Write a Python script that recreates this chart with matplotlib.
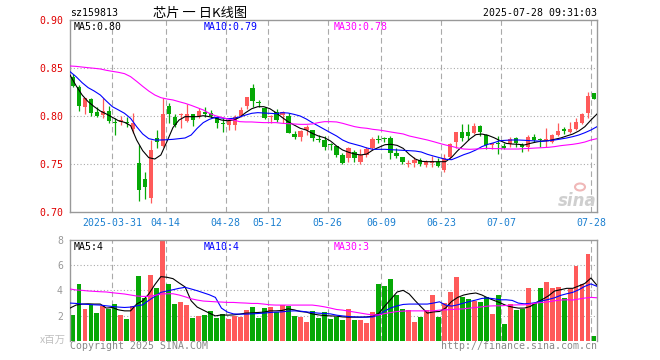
import numpy as np
import matplotlib.pyplot as plt
from matplotlib.patches import Ellipse

# 日K线数据 (sz159813, 2025-03-20 ~ 2025-07-28)
opens = [0.8410, 0.8306, 0.8097, 0.8177, 0.8045, 0.8007, 0.8056, 0.7934, 0.7941, 0.7940,
         0.7865, 0.7507, 0.7344, 0.7149, 0.7771, 0.7688, 0.8104, 0.7993, 0.8007, 0.7948,
         0.8021, 0.7993, 0.8045, 0.8028, 0.7993, 0.7924, 0.7906, 0.7906, 0.8000, 0.8104,
         0.8292, 0.8135, 0.8080, 0.7993, 0.8045, 0.8010, 0.8000, 0.7813, 0.7785, 0.7854,
         0.7854, 0.7754, 0.7750, 0.7700, 0.7688, 0.7594, 0.7566, 0.7628, 0.7524, 0.7594,
         0.7663, 0.7757, 0.7764, 0.7771, 0.7611, 0.7570, 0.7503, 0.7514, 0.7542, 0.7490,
         0.7514, 0.7524, 0.7438, 0.7576, 0.7733, 0.7837, 0.7837, 0.7826, 0.7900, 0.7802,
         0.7694, 0.7712, 0.7688, 0.7708, 0.7767, 0.7698, 0.7674, 0.7785, 0.7752, 0.7753,
         0.7733, 0.7802, 0.7861, 0.7837, 0.7865, 0.7924, 0.8035, 0.8236]
highs = [0.8440, 0.8320, 0.8190, 0.8185, 0.8097, 0.8190, 0.8100, 0.7976, 0.8003, 0.7993,
         0.8028, 0.7698, 0.7417, 0.7750, 0.7854, 0.8190, 0.8140, 0.8017, 0.8028, 0.8125,
         0.8021, 0.8087, 0.8097, 0.8062, 0.8000, 0.7976, 0.7958, 0.8010, 0.8097, 0.8201,
         0.8333, 0.8167, 0.8097, 0.8010, 0.8069, 0.8055, 0.8028, 0.7847, 0.7854, 0.7906,
         0.7854, 0.7802, 0.7792, 0.7722, 0.7688, 0.7611, 0.7674, 0.7646, 0.7653, 0.7674,
         0.7778, 0.7802, 0.7785, 0.7792, 0.7663, 0.7570, 0.7542, 0.7576, 0.7559, 0.7542,
         0.7583, 0.7566, 0.7600, 0.7722, 0.7837, 0.7917, 0.7917, 0.7931, 0.7906, 0.7812,
         0.7722, 0.7792, 0.7715, 0.7778, 0.7785, 0.7715, 0.7802, 0.7812, 0.7767, 0.7872,
         0.7812, 0.7931, 0.7889, 0.7941, 0.7976, 0.8035, 0.8253, 0.8243]
lows = [0.8300, 0.8050, 0.8017, 0.8000, 0.7993, 0.7976, 0.7924, 0.7800, 0.7906, 0.7890,
        0.7826, 0.7118, 0.7132, 0.7097, 0.7663, 0.7674, 0.7924, 0.7890, 0.7870, 0.7938,
        0.7900, 0.7976, 0.7993, 0.7976, 0.7875, 0.7837, 0.7854, 0.7854, 0.7993, 0.8069,
        0.8097, 0.8097, 0.7970, 0.7924, 0.7941, 0.7924, 0.7819, 0.7757, 0.7743, 0.7802,
        0.7740, 0.7733, 0.7646, 0.7646, 0.7570, 0.7500, 0.7524, 0.7524, 0.7500, 0.7576,
        0.7646, 0.7715, 0.7733, 0.7556, 0.7559, 0.7497, 0.7465, 0.7465, 0.7476, 0.7465,
        0.7465, 0.7472, 0.7420, 0.7559, 0.7663, 0.7743, 0.7750, 0.7812, 0.7792, 0.7653,
        0.7653, 0.7604, 0.7653, 0.7674, 0.7674, 0.7628, 0.7639, 0.7733, 0.7674, 0.7680,
        0.7722, 0.7792, 0.7813, 0.7819, 0.7854, 0.7917, 0.7976, 0.8177]
closes = [0.8310, 0.8108, 0.8190, 0.8035, 0.8000, 0.8056, 0.7948, 0.7930, 0.7958, 0.7924,
          0.7924, 0.7229, 0.7264, 0.7646, 0.7726, 0.8020, 0.8020, 0.7906, 0.8017, 0.8021,
          0.7958, 0.8052, 0.8021, 0.8000, 0.7924, 0.7917, 0.7948, 0.7993, 0.8063, 0.8201,
          0.8160, 0.8132, 0.7976, 0.8000, 0.7958, 0.8045, 0.7826, 0.7785, 0.7844, 0.7889,
          0.7774, 0.7750, 0.7680, 0.7698, 0.7594, 0.7514, 0.7663, 0.7559, 0.7594, 0.7653,
          0.7764, 0.7750, 0.7757, 0.7611, 0.7583, 0.7524, 0.7507, 0.7542, 0.7500, 0.7524,
          0.7535, 0.7480, 0.7559, 0.7708, 0.7837, 0.7767, 0.7792, 0.7896, 0.7837, 0.7698,
          0.7715, 0.7708, 0.7663, 0.7760, 0.7715, 0.7674, 0.7778, 0.7750, 0.7750, 0.7757,
          0.7802, 0.7847, 0.7844, 0.7865, 0.7941, 0.8021, 0.8208, 0.8177]

# 均线
ma5 = [0.8427, 0.8316, 0.8219, 0.8149, 0.8097, 0.8052, 0.8021, 0.7986, 0.7951, 0.7934,
       0.7900, 0.7750, 0.7639, 0.7566, 0.7552, 0.7594, 0.7733, 0.7880, 0.7958, 0.7993,
       0.7993, 0.7993, 0.8003, 0.7993, 0.7979, 0.7958, 0.7951, 0.7958, 0.7986, 0.8035,
       0.8076, 0.8097, 0.8097, 0.8076, 0.8035, 0.7986, 0.7941, 0.7906, 0.7872, 0.7854,
       0.7819, 0.7792, 0.7774, 0.7740, 0.7688, 0.7646, 0.7622, 0.7604, 0.7594, 0.7604,
       0.7646, 0.7674, 0.7701, 0.7705, 0.7694, 0.7663, 0.7601, 0.7552, 0.7528, 0.7524,
       0.7524, 0.7524, 0.7524, 0.7570, 0.7639, 0.7698, 0.7760, 0.7806, 0.7812, 0.7799,
       0.7774, 0.7743, 0.7715, 0.7708, 0.7705, 0.7698, 0.7715, 0.7729, 0.7740, 0.7743,
       0.7757, 0.7771, 0.7792, 0.7812, 0.7844, 0.7889, 0.7958, 0.8021]
ma10 = [0.8462, 0.8410, 0.8347, 0.8295, 0.8260, 0.8219, 0.8156, 0.8097, 0.8063, 0.8028,
        0.7976, 0.7889, 0.7813, 0.7764, 0.7750, 0.7750, 0.7753, 0.7757, 0.7764, 0.7771,
        0.7802, 0.7872, 0.7931, 0.7965, 0.7986, 0.7979, 0.7972, 0.7976, 0.7990, 0.8010,
        0.8028, 0.8035, 0.8031, 0.8028, 0.8024, 0.8035, 0.8031, 0.8017, 0.8000, 0.7969,
        0.7931, 0.7896, 0.7861, 0.7826, 0.7792, 0.7750, 0.7722, 0.7705, 0.7688, 0.7667,
        0.7653, 0.7653, 0.7653, 0.7649, 0.7646, 0.7642, 0.7639, 0.7635, 0.7625, 0.7601,
        0.7583, 0.7566, 0.7549, 0.7545, 0.7570, 0.7597, 0.7618, 0.7646, 0.7681, 0.7705,
        0.7722, 0.7743, 0.7747, 0.7750, 0.7750, 0.7747, 0.7743, 0.7740, 0.7736, 0.7743,
        0.7750, 0.7760, 0.7771, 0.7785, 0.7802, 0.7826, 0.7854, 0.7889]
ma30 = [0.8521, 0.8517, 0.8510, 0.8503, 0.8497, 0.8490, 0.8476, 0.8465, 0.8455, 0.8441,
        0.8410, 0.8361, 0.8309, 0.8260, 0.8219, 0.8191, 0.8177, 0.8167, 0.8149, 0.8132,
        0.8111, 0.8087, 0.8063, 0.8028, 0.8003, 0.7986, 0.7969, 0.7958, 0.7941, 0.7938,
        0.7938, 0.7934, 0.7931, 0.7931, 0.7931, 0.7924, 0.7920, 0.7917, 0.7913, 0.7913,
        0.7917, 0.7931, 0.7941, 0.7941, 0.7938, 0.7924, 0.7906, 0.7889, 0.7878, 0.7872,
        0.7861, 0.7854, 0.7844, 0.7833, 0.7823, 0.7813, 0.7792, 0.7778, 0.7764, 0.7750,
        0.7733, 0.7715, 0.7698, 0.7684, 0.7667, 0.7656, 0.7653, 0.7656, 0.7660, 0.7663,
        0.7660, 0.7660, 0.7656, 0.7656, 0.7656, 0.7660, 0.7663, 0.7667, 0.7670, 0.7674,
        0.7681, 0.7691, 0.7698, 0.7705, 0.7715, 0.7729, 0.7750, 0.7764]

# 成交量 (百万)
volume = [2.05, 4.53, 2.53, 2.83, 2.21, 2.77, 2.53, 2.88, 2.05, 1.73,
          2.77, 5.17, 3.39, 5.25, 4.21, 8.00, 4.53, 2.93, 3.09, 2.85,
          1.81, 2.00, 2.05, 2.37, 1.81, 2.13, 1.73, 2.00, 1.92, 2.45,
          2.69, 1.81, 2.61, 2.69, 2.29, 2.83, 2.77, 1.97, 1.89, 1.49,
          2.37, 1.84, 2.27, 1.73, 1.92, 1.65, 2.53, 1.65, 1.65, 1.41,
          2.29, 4.53, 4.37, 4.93, 3.65, 2.53, 2.45, 1.49, 1.89, 2.45,
          3.65, 1.89, 3.01, 3.89, 5.09, 3.49, 3.33, 3.17, 3.09, 3.49,
          2.13, 3.65, 1.33, 2.93, 2.45, 2.53, 4.21, 3.01, 4.21, 4.69,
          4.21, 4.29, 3.41, 4.13, 5.97, 4.53, 6.85, 0.37]
vma5 = [2.59, 2.83, 2.91, 2.93, 2.91, 2.91, 2.59, 2.64, 2.45, 2.37,
        2.37, 2.91, 3.17, 3.71, 4.45, 5.09, 5.04, 4.93, 4.59, 4.27,
        3.17, 2.67, 2.43, 2.19, 1.97, 2.05, 2.03, 2.05, 2.11, 2.19,
        2.21, 2.24, 2.27, 2.37, 2.37, 2.40, 2.53, 2.45, 2.32, 2.27,
        2.13, 2.05, 2.00, 1.97, 1.95, 1.89, 1.87, 1.87, 1.87, 1.89,
        1.95, 2.19, 2.77, 3.31, 3.87, 4.00, 3.71, 3.17, 2.67, 2.19,
        2.29, 2.32, 2.59, 3.12, 3.44, 3.63, 3.73, 3.79, 3.63, 3.39,
        3.20, 3.01, 2.80, 2.67, 2.59, 2.59, 2.72, 3.04, 3.28, 3.57,
        3.95, 4.05, 4.16, 4.16, 4.35, 4.55, 4.98, 4.40]
vma10 = [2.99, 2.96, 2.91, 2.88, 2.85, 2.83, 2.77, 2.72, 2.67, 2.64,
         2.67, 2.77, 2.85, 3.20, 3.52, 3.84, 3.95, 4.05, 4.16, 4.24,
         4.11, 3.97, 3.81, 3.65, 3.44, 2.59, 2.27, 2.13, 2.11, 2.11,
         2.13, 2.16, 2.19, 2.24, 2.27, 2.29, 2.35, 2.37, 2.35, 2.29,
         2.24, 2.19, 2.16, 2.13, 2.03, 1.97, 1.92, 1.89, 1.87, 1.87,
         1.89, 2.05, 2.37, 2.61, 2.77, 2.88, 2.91, 2.91, 2.91, 2.91,
         2.99, 3.09, 2.83, 2.75, 2.85, 2.99, 3.12, 3.23, 3.36, 3.39,
         3.33, 3.25, 3.25, 3.20, 2.99, 2.93, 2.96, 3.04, 3.17, 3.28,
         3.41, 3.60, 3.73, 3.84, 4.05, 4.32, 4.51, 4.32]
vma30 = [4.11, 4.03, 4.00, 3.95, 3.92, 3.89, 3.87, 3.81, 3.76, 3.71,
         3.63, 3.55, 3.52, 3.52, 3.60, 3.71, 3.73, 3.73, 3.63, 3.49,
         3.33, 3.23, 3.15, 3.12, 3.09, 3.07, 3.04, 3.04, 3.01, 2.99,
         2.96, 2.96, 2.91, 2.85, 2.83, 2.83, 2.83, 2.83, 2.83, 2.83,
         2.83, 2.77, 2.69, 2.59, 2.48, 2.43, 2.35, 2.27, 2.19, 2.11,
         2.05, 2.05, 2.16, 2.24, 2.32, 2.35, 2.37, 2.37, 2.37, 2.37,
         2.37, 2.43, 2.45, 2.48, 2.51, 2.53, 2.59, 2.64, 2.69, 2.75,
         2.77, 2.77, 2.80, 2.83, 2.85, 2.85, 2.91, 2.99, 3.04, 3.09,
         3.17, 3.23, 3.25, 3.23, 3.31, 3.39, 3.44, 3.41]

date_idx = [7, 16, 26, 33, 43, 52, 62, 72, 87]
date_labels = ['2025-03-31', '04-14', '04-28', '05-12', '05-26',
               '06-09', '06-23', '07-07', '07-28']
price_ticks = [0.70, 0.75, 0.80, 0.85, 0.90]
vol_ticks = [2, 4, 6, 8]

RED = '#ff5a5a'
GREEN = '#06a806'
GRID = '#aaaaaa'
MONO = 'DejaVu Sans Mono'
CJK = ['Noto Sans CJK SC', 'DejaVu Sans']

W, H = 660, 360
fig = plt.figure(figsize=(6.6, 3.6), dpi=100)


def px_axes(x0, y0, x1, y1):
    return fig.add_axes([x0 / W, 1 - y1 / H, (x1 - x0) / W, (y1 - y0) / H])


def px_text(x, y, s, **kw):
    kw.setdefault('family', MONO)
    kw.setdefault('fontsize', 7.1)
    fig.text(x / W, 1 - y / H, s, va='center', **kw)


n = len(closes)
idx = np.arange(n)
o = np.array(opens)
c = np.array(closes)
up = c >= o
colors = np.where(up, RED, GREEN)
ma_x = np.linspace(-0.5, n - 0.5, n)
grid_x = np.array(date_idx) - 0.5

ax = px_axes(70, 20, 597, 212)
axv = px_axes(70, 240, 597, 340.7)

for a in (ax, axv):
    a.set_xlim(-0.5, n - 0.5)
    for s in a.spines.values():
        s.set_color('#999999')
        s.set_linewidth(1.0)
    for gx in grid_x:
        a.axvline(gx, color=GRID, lw=0.8, ls=(0, (5, 3)), zorder=0)
    a.tick_params(length=0)
axv.spines['bottom'].set_visible(False)

# K线
ax.vlines(idx, lows, highs, colors=colors, lw=0.9, zorder=2)
body = np.maximum(np.abs(c - o), 0.0009)
ax.bar(idx, body, bottom=np.minimum(o, c), width=0.72, color=colors, zorder=3)
ax.plot(ma_x, ma5, color='black', lw=0.8, zorder=4)
ax.plot(ma_x, ma10, color='#0000ff', lw=0.8, zorder=4)
ax.plot(ma_x, ma30, color='#ff00ff', lw=0.8, zorder=4)
ax.set_ylim(0.70, 0.90)
ax.set_yticks(price_ticks)
ax.set_yticklabels(['%.2f' % v for v in price_ticks], color='#e00000',
                   family=MONO, fontsize=7.1)
ax.tick_params(axis='y', pad=5)
for v in price_ticks[1:-1]:
    ax.axhline(v, color=GRID, lw=0.8, ls=(0, (1, 2)), zorder=0)
ax.set_xticks(grid_x)
ax.set_xticklabels(date_labels, color='#1a7fd0', family=MONO, fontsize=7.1)
ax.tick_params(axis='x', pad=4)

# sina 水印
fig.add_artist(Ellipse((580 / W, 1 - 187 / H), 10 / W, 7 / H, fill=False,
                       ec='#f0b8b8', lw=1.5, transform=fig.transFigure))
px_text(597, 201, 'sina', family='DejaVu Sans', fontsize=12, color='#cfcfcf',
        style='italic', weight='bold', ha='right')

# 成交量
axv.bar(idx, volume, width=0.82, color=colors, zorder=2)
axv.plot(ma_x, vma5, color='black', lw=0.8, zorder=4)
axv.plot(ma_x, vma10, color='#0000ff', lw=0.8, zorder=4)
axv.plot(ma_x, vma30, color='#ff00ff', lw=0.8, zorder=4)
axv.set_ylim(0, 8)
axv.set_yticks(vol_ticks)
axv.set_yticklabels([str(v) for v in vol_ticks], color='#999999',
                    family=MONO, fontsize=7.1)
axv.tick_params(axis='y', pad=5)
axv.set_xticks([])
for v in vol_ticks[:-1]:
    axv.axhline(v, color=GRID, lw=0.8, ls=(0, (1, 2)), zorder=1)

# 文字
px_text(70, 13, 'sz159813')
px_text(200, 13, '芯片 一 日K线图', family=CJK, fontsize=9.5, ha='center')
px_text(597, 13, '2025-07-28 09:31:03', ha='right')
px_text(74, 26.5, 'MA5:%.2f' % ma5[-1], color='black')
px_text(204, 26.5, 'MA10:%.2f' % ma10[-1], color='#0000ff')
px_text(334, 26.5, 'MA30:%.2f' % ma30[-1], color='#ff00ff')
px_text(74, 246.5, 'MA5:%d' % vma5[-1], color='black')
px_text(204, 246.5, 'MA10:%d' % vma10[-1], color='#0000ff')
px_text(334, 246.5, 'MA30:%d' % vma30[-1], color='#ff00ff')
px_text(66, 340, 'x百万', family=CJK, fontsize=7.5, color='#c0c0c0', ha='right')
px_text(70, 346, 'Copyright 2025 SINA.COM', color='#888888')
px_text(597, 346, 'http://finance.sina.com.cn', color='#888888', ha='right')

fig.savefig('out.png', dpi=100)
